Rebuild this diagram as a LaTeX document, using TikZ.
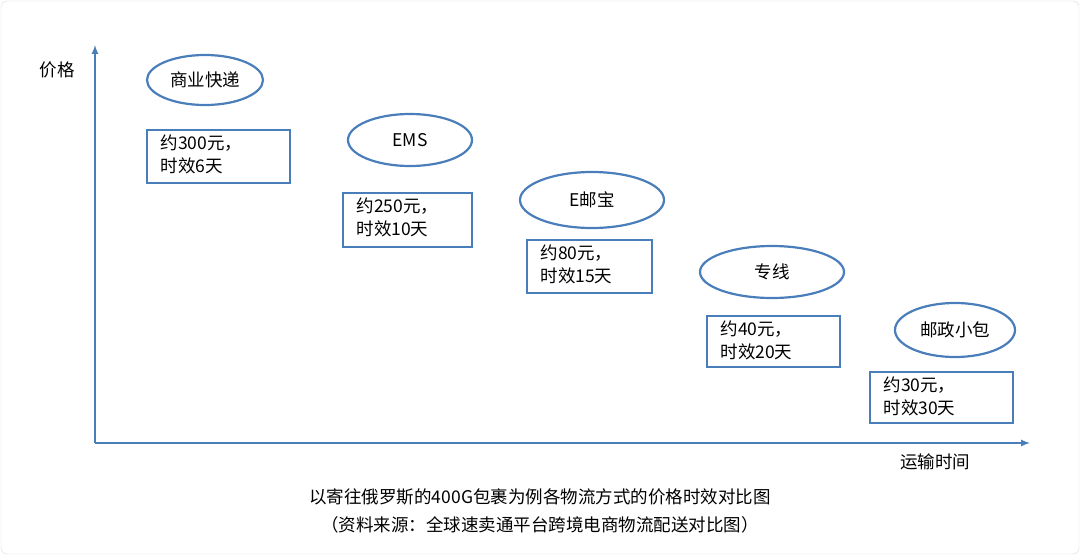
\documentclass[tikz,border=0pt]{standalone}
\usepackage{fontspec}
\setmainfont{Noto Sans CJK SC}
\definecolor{ax}{HTML}{4A7EBB}
\begin{document}
\begin{tikzpicture}[x=1pt,y=-1pt,
  bx/.style={draw=ax,line width=2.2pt},
  lbl/.style={font=\fontsize{17.5}{23}\selectfont,align=left,anchor=north west},
  txt/.style={font=\fontsize{17.5}{21}\selectfont}]
\useasboundingbox (0,0) rectangle (1080,555);
\draw[gray!30,rounded corners=6pt] (1,1) rectangle (1079,554);
\coordinate (o) at (95,443);
\coordinate (yt) at (95,45);
\coordinate (xt) at (1030,443);
\draw[ax,line width=2pt,-latex] (o) -- (yt);
\draw[ax,line width=2pt,-latex] (o) -- (xt);
\node[txt] (ylab) at (57,70) {价格};
\node[txt] (xlab) at (935,462) {运输时间};
\foreach \n/\cx/\cy/\rx/\ry/\t in {e1/205/80/58/25/商业快递, e2/410/140/62/26/EMS, e3/592/200/72/28/E邮宝, e4/772/272/72/26/专线, e5/955/330/60/27/邮政小包}{
  \draw[ax,line width=2.2pt] (\cx,\cy) ellipse [x radius=\rx, y radius=\ry];
  \node[txt] (\n) at (\cx,\cy) {\t};
}
\foreach \n/\xa/\ya/\xb/\yb/\t in {b1/147/130/290/183/{约300元，\\时效6天}, b2/343/193/472/247/{约250元，\\时效10天}, b3/527/240/652/293/{约80元，\\时效15天}, b4/707/316/840/367/{约40元，\\时效20天}, b5/870/372/1013/423/{约30元，\\ 时效30天}}{
  \draw[bx] (\xa,\ya) rectangle (\xb,\yb);
  \node[lbl] (\n) at (\xa+10,\ya+1) {\t};
}
\node[txt] (c1) at (540,497) {以寄往俄罗斯的400G包裹为例各物流方式的价格时效对比图};
\node[txt] (c2) at (540,525) {（资料来源：全球速卖通平台跨境电商物流配送对比图）};
\end{tikzpicture}
\end{document}
